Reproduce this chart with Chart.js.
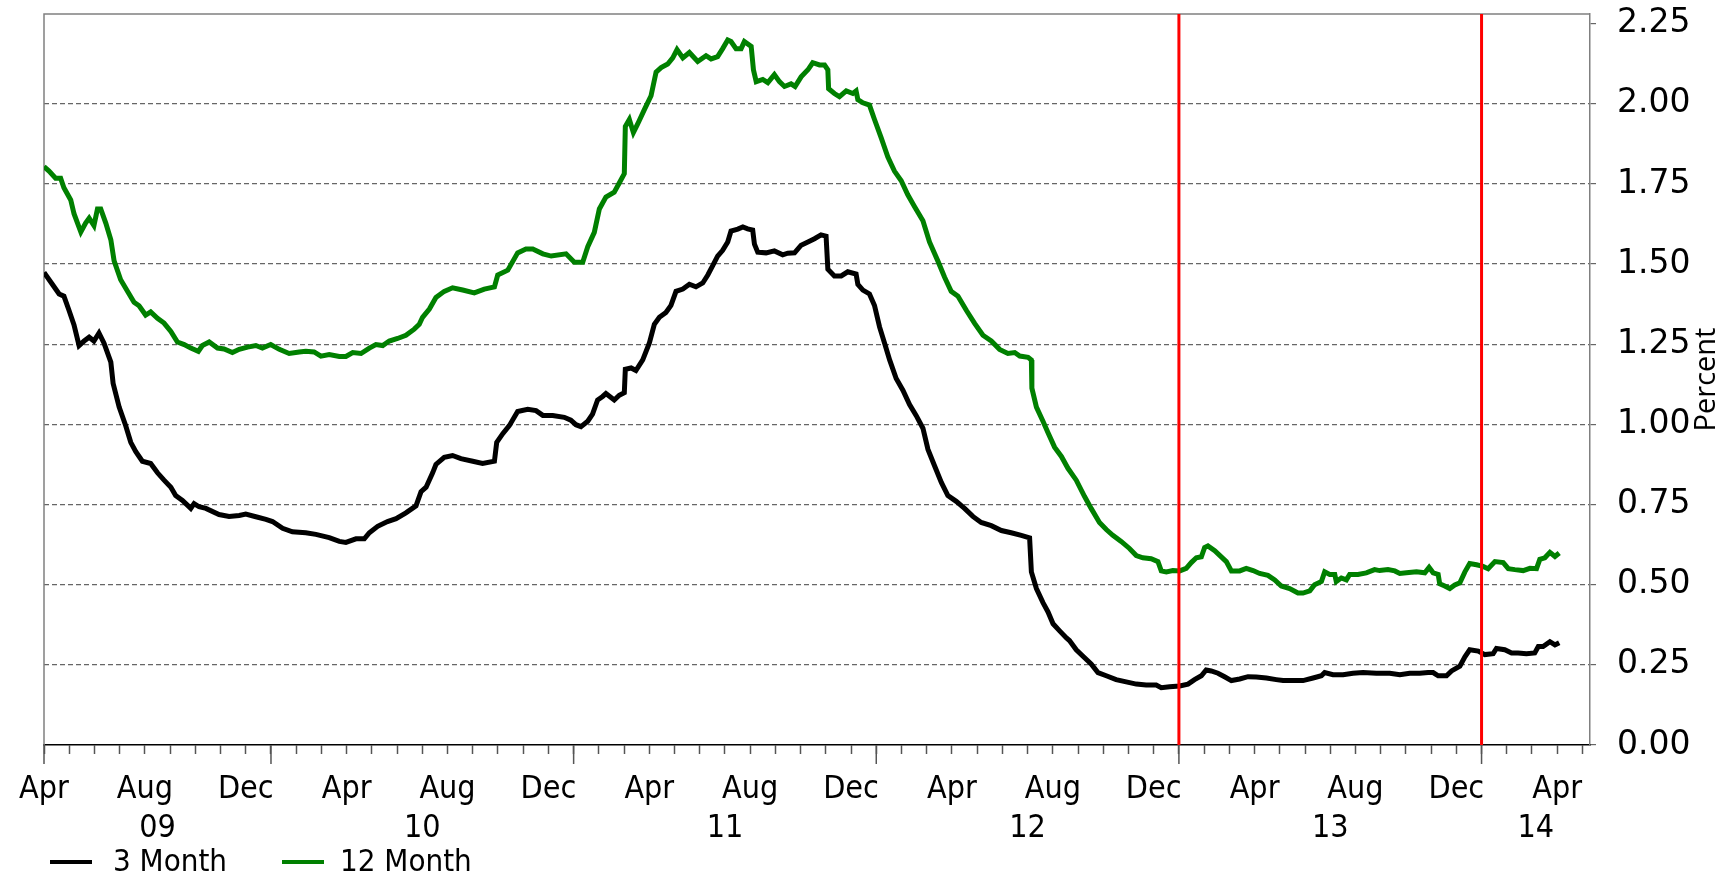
<!DOCTYPE html>
<html>
<head>
<meta charset="utf-8">
<script src="https://cdn.jsdelivr.net/npm/chart.js@4.4.1/dist/chart.umd.min.js"></script>
<style>
  html, body { margin: 0; padding: 0; background: #fff; }
</style>
</head>
<body>
<canvas id="rates" width="1735" height="875"></canvas>
<script>
// x values are months counted from 1 April 2009
const threeMonthX = [0.00,0.33,0.60,0.79,0.99,1.19,1.39,1.59,1.79,1.98,2.18,2.38,2.65,2.74,2.98,3.24,3.44,3.64,3.90,4.23,4.50,4.76,5.03,5.22,5.49,5.82,5.95,6.15,6.42,6.94,7.34,7.74,8.00,8.40,8.80,9.06,9.46,9.85,10.38,10.78,11.31,11.71,11.97,12.37,12.70,12.90,13.23,13.62,13.96,14.35,14.75,14.95,15.15,15.41,15.54,15.87,16.20,16.53,17.00,17.39,17.86,17.95,18.19,18.45,18.78,19.18,19.51,19.78,20.17,
  20.63,20.89,21.09,21.29,21.56,21.75,21.95,22.15,22.28,22.61,22.81,23.01,23.05,23.28,23.47,23.74,24.00,24.20,24.40,24.66,24.86,25.06,25.33,25.59,25.85,26.12,26.32,26.52,26.71,26.91,27.11,27.24,27.51,27.71,27.90,28.10,28.17,28.30,28.63,28.96,29.29,29.49,29.76,30.02,30.29,30.55,30.81,31.01,31.08,31.34,31.61,31.87,32.20,32.27,32.47,32.73,32.93,33.13,33.33,33.53,33.79,34.06,34.32,34.58,34.85,35.05,35.31,35.58,35.84,36.17,36.50,36.83,37.16,37.56,37.96,38.35,38.75,39.08,39.15,39.35,39.61,39.81,40.01,40.27,40.54,
  40.66,40.93,41.26,41.52,41.79,42.12,42.51,42.91,43.31,43.70,44.10,44.30,44.63,45.03,45.36,45.62,45.89,46.08,46.28,46.55,46.81,47.08,47.41,47.74,48.07,48.47,48.86,49.13,49.52,49.92,50.32,50.65,50.78,51.11,51.51,51.90,52.30,52.83,53.36,53.76,54.15,54.55,54.88,55.08,55.28,55.61,55.81,56.14,56.34,56.53,56.87,57.13,57.46,57.59,57.92,58.19,58.45,58.78,59.11,59.25,59.44,59.71,59.91,60.08];
const threeMonthY = [1.474,1.437,1.407,1.40,1.356,1.31,1.246,1.26,1.272,1.26,1.285,1.253,1.194,1.128,1.054,0.996,0.944,0.915,0.885,0.878,0.849,0.826,0.804,0.778,0.763,0.738,0.753,0.743,0.738,0.719,0.713,0.716,0.72,0.712,0.704,0.697,0.676,0.665,0.662,0.657,0.647,0.635,0.632,0.643,0.643,0.662,0.682,0.697,0.706,0.724,0.746,0.79,0.804,0.849,0.875,0.897,0.903,0.893,0.885,0.878,0.885,0.944,0.971,0.996,1.04,1.047,1.043,1.028,1.028,
  1.022,1.013,0.999,0.993,1.01,1.032,1.076,1.087,1.096,1.076,1.091,1.099,1.172,1.176,1.168,1.201,1.253,1.312,1.334,1.349,1.371,1.415,1.422,1.437,1.429,1.441,1.466,1.496,1.525,1.543,1.569,1.603,1.609,1.616,1.61,1.606,1.562,1.537,1.535,1.541,1.529,1.534,1.535,1.559,1.569,1.579,1.591,1.587,1.484,1.463,1.463,1.476,1.469,1.437,1.419,1.407,1.371,1.304,1.253,1.201,1.143,1.106,1.062,1.028,0.988,0.922,0.871,0.819,0.778,0.76,0.738,0.713,0.694,0.684,0.669,0.662,0.654,0.646,0.54,0.488,0.444,0.415,0.378,0.356,0.334,
  0.326,0.297,0.272,0.253,0.226,0.216,0.204,0.197,0.19,0.187,0.187,0.179,0.182,0.184,0.19,0.204,0.216,0.234,0.231,0.224,0.213,0.201,0.206,0.213,0.212,0.209,0.204,0.201,0.201,0.201,0.209,0.216,0.226,0.219,0.219,0.224,0.226,0.224,0.224,0.219,0.224,0.224,0.226,0.226,0.216,0.216,0.231,0.246,0.275,0.297,0.293,0.282,0.285,0.301,0.297,0.287,0.287,0.285,0.287,0.307,0.307,0.322,0.312,0.319];

const twelveMonthX = [0.00,0.20,0.46,0.66,0.79,1.06,1.19,1.46,1.65,1.79,1.98,2.12,2.25,2.45,2.65,2.78,3.04,3.31,3.57,3.77,4.03,4.23,4.50,4.76,5.03,5.29,5.56,5.82,6.12,6.28,6.55,6.88,7.14,7.47,7.74,8.07,8.40,8.66,8.99,9.33,9.72,10.12,10.38,10.71,10.98,11.31,11.71,11.97,12.24,12.57,12.90,13.16,13.43,13.69,14.02,14.35,14.68,14.88,15.01,15.28,15.54,15.87,16.20,16.60,17.06,17.46,17.86,17.99,18.39,18.78,19.11,19.38,19.78,20.11,
  20.70,21.03,21.36,21.56,21.82,22.02,22.28,22.61,22.81,23.01,23.05,23.21,23.37,23.54,23.80,24.07,24.27,24.47,24.73,24.93,25.10,25.33,25.59,25.92,26.25,26.45,26.71,26.91,27.11,27.24,27.44,27.64,27.77,28.04,28.13,28.24,28.50,28.70,28.96,29.16,29.36,29.62,29.78,30.02,30.29,30.48,30.75,30.95,31.08,31.11,31.34,31.54,31.81,32.07,32.20,32.27,32.47,32.73,32.93,33.20,33.46,33.72,33.99,34.25,34.52,34.85,35.11,35.44,35.71,35.97,36.24,36.57,36.90,37.23,37.56,37.89,38.22,38.49,38.69,39.02,39.15,39.17,39.35,39.61,39.81,40.07,40.34,40.60,
  40.93,41.26,41.52,41.85,42.12,42.38,42.71,43.04,43.31,43.57,43.90,44.17,44.30,44.50,44.76,45.03,45.29,45.49,45.69,45.89,46.02,46.15,46.42,46.68,46.88,47.08,47.41,47.67,47.94,48.20,48.53,48.80,49.06,49.39,49.72,49.92,50.19,50.38,50.65,50.78,50.98,51.18,51.24,51.44,51.64,51.77,52.10,52.43,52.76,52.96,53.29,53.56,53.76,54.02,54.42,54.75,54.92,55.08,55.28,55.34,55.54,55.74,55.94,56.14,56.34,56.53,56.80,57.06,57.26,57.53,57.86,58.06,58.32,58.65,58.92,59.18,59.31,59.51,59.71,59.91,60.08];
const twelveMonthY = [1.804,1.79,1.768,1.768,1.738,1.70,1.657,1.60,1.628,1.643,1.62,1.672,1.672,1.628,1.576,1.51,1.451,1.415,1.381,1.37,1.341,1.351,1.331,1.316,1.29,1.257,1.249,1.238,1.228,1.246,1.257,1.238,1.235,1.224,1.234,1.241,1.246,1.238,1.249,1.234,1.221,1.226,1.228,1.226,1.213,1.218,1.212,1.212,1.224,1.221,1.238,1.249,1.246,1.26,1.268,1.278,1.297,1.312,1.334,1.36,1.396,1.415,1.426,1.419,1.41,1.422,1.429,1.466,1.481,1.535,1.547,1.547,1.532,1.525,
  1.532,1.506,1.506,1.554,1.599,1.672,1.709,1.724,1.753,1.782,1.929,1.951,1.91,1.937,1.981,2.025,2.099,2.113,2.124,2.143,2.169,2.143,2.16,2.132,2.15,2.14,2.147,2.172,2.199,2.194,2.172,2.172,2.194,2.179,2.106,2.069,2.076,2.066,2.091,2.069,2.054,2.062,2.054,2.084,2.106,2.128,2.121,2.121,2.106,2.047,2.032,2.022,2.04,2.032,2.04,2.013,2.003,1.996,1.951,1.893,1.834,1.79,1.76,1.716,1.679,1.635,1.569,1.51,1.459,1.415,1.40,1.356,1.315,1.278,1.26,1.234,1.221,1.224,1.213,1.209,1.201,1.113,1.054,1.01,0.974,0.929,0.90,0.863,
  0.826,0.775,0.738,0.694,0.672,0.654,0.635,0.613,0.591,0.584,0.581,0.572,0.543,0.54,0.544,0.543,0.551,0.569,0.584,0.587,0.616,0.621,0.606,0.587,0.572,0.543,0.543,0.551,0.544,0.535,0.529,0.515,0.496,0.488,0.474,0.474,0.481,0.50,0.51,0.54,0.532,0.532,0.51,0.521,0.515,0.532,0.532,0.537,0.547,0.544,0.547,0.543,0.535,0.537,0.54,0.537,0.554,0.537,0.532,0.503,0.496,0.488,0.499,0.506,0.54,0.566,0.562,0.557,0.55,0.572,0.569,0.55,0.547,0.544,0.551,0.55,0.579,0.584,0.601,0.588,0.599];

const tickLabels = ['Apr', 'Aug', 'Dec'];      // every fourth month, from Apr 2009
const yearLabels = ['09', '10', '11', '12', '13', '14'];
const yearStarts = [0, 9, 21, 33, 45, 57];    // month index where each year begins
const markerMonths = [45, 57];                // red lines
const xMax = 61.3;
const yMax = 2.28;

const FONT = 'DejaVu Sans';
const NARROW = '"DejaVu Sans Condensed", "DejaVu Sans"';

// frame, red markers, long year ticks, year labels, legend, axis title
const extras = {
  id: 'extras',
  beforeDatasetsDraw(chart) {
    const {ctx, chartArea: a} = chart;
    ctx.save();
    ctx.strokeStyle = '#808080';
    ctx.lineWidth = 1.5;
    ctx.beginPath();
    ctx.moveTo(a.left, a.bottom);
    ctx.lineTo(a.left, a.top);
    ctx.lineTo(a.right, a.top);
    ctx.stroke();
    ctx.restore();
  },
  afterDatasetsDraw(chart) {
    const {ctx, chartArea: a, scales: {x}} = chart;
    ctx.save();
    ctx.strokeStyle = '#ff0000';
    ctx.lineWidth = 3;
    markerMonths.forEach(m => {
      const px = x.getPixelForValue(m);
      ctx.beginPath();
      ctx.moveTo(px, a.top);
      ctx.lineTo(px, a.bottom);
      ctx.stroke();
    });
    ctx.restore();
  },
  afterDraw(chart) {
    const {ctx, chartArea: a, scales: {x}} = chart;
    ctx.save();
    ctx.strokeStyle = '#555';
    ctx.lineWidth = 1.5;
    yearStarts.forEach(m => {
      const px = x.getPixelForValue(m);
      ctx.beginPath();
      ctx.moveTo(px, a.bottom);
      ctx.lineTo(px, a.bottom + 19);
      ctx.stroke();
    });

    ctx.fillStyle = '#000';
    ctx.font = '32px ' + NARROW;
    ctx.textAlign = 'center';
    ctx.textBaseline = 'middle';
    yearLabels.forEach((lab, i) => {
      const end = i + 1 < yearStarts.length ? yearStarts[i + 1] : xMax;
      const px = (x.getPixelForValue(yearStarts[i]) + x.getPixelForValue(end)) / 2;
      ctx.fillText(lab, px, 829);
    });

    // legend
    const legendX = [50, 282];
    ctx.textAlign = 'left';
    ctx.font = '31px ' + NARROW;
    chart.data.datasets.forEach((ds, i) => {
      const lx = legendX[i];
      ctx.strokeStyle = ds.borderColor;
      ctx.lineWidth = 4;
      ctx.beginPath();
      ctx.moveTo(lx, 862);
      ctx.lineTo(lx + 42, 862);
      ctx.stroke();
      ctx.fillText(ds.label, lx + (i === 0 ? 63 : 58), 863);
    });

    // rotated title
    ctx.translate(1707, (a.top + a.bottom) / 2);
    ctx.rotate(-Math.PI / 2);
    ctx.textAlign = 'center';
    ctx.font = '29px "Open Sans"';
    ctx.fillText('Percent', 0, 0);
    ctx.restore();
  }
};

new Chart(document.getElementById('rates'), {
  type: 'line',
  data: {
    datasets: [{
      label: '3 Month',
      data: threeMonthX.map((v, i) => ({x: v, y: threeMonthY[i]})),
      borderColor: '#000000',
      backgroundColor: '#000000',
      borderWidth: 5,
      pointRadius: 0,
      tension: 0
    }, {
      label: '12 Month',
      data: twelveMonthX.map((v, i) => ({x: v, y: twelveMonthY[i]})),
      borderColor: '#008000',
      backgroundColor: '#008000',
      borderWidth: 5,
      pointRadius: 0,
      tension: 0
    }]
  },
  options: {
    responsive: false,
    animation: false,
    layout: { padding: { left: 44, top: 14, right: 0, bottom: 0 } },
    plugins: {
      legend: { display: false },
      tooltip: { enabled: false }
    },
    scales: {
      x: {
        type: 'linear',
        min: 0,
        max: xMax,
        afterFit(scale) { scale.height = 130; },
        afterBuildTicks(scale) {
          scale.ticks = Array.from({length: 62}, (_, i) => ({value: i}));
        },
        grid: { drawOnChartArea: false, tickLength: 9, tickColor: '#555', tickWidth: 1.5 },
        border: { color: '#000', width: 1.5 },
        ticks: {
          autoSkip: false,
          maxRotation: 0,
          padding: 16,
          color: '#000',
          font: { family: NARROW, size: 32 },
          callback: v => (v % 4 === 0 ? tickLabels[(v / 4) % 3] : '')
        }
      },
      y: {
        position: 'right',
        min: 0,
        max: yMax,
        afterFit(scale) {
          scale.width = 145;
          scale.paddingTop = 0;
          scale.paddingBottom = 0;
        },
        grid: {
          color: c => (c.tick.value === 0 || c.tick.value === 2.25) ? 'rgba(0,0,0,0)' : '#666',
          lineWidth: 1.2,
          tickLength: 6,
          tickColor: '#666',
          tickWidth: 1.2
        },
        border: { color: '#808080', width: 1.5, dash: [5, 3] },
        ticks: {
          stepSize: 0.25,
          includeBounds: false,
          padding: 21,
          color: '#000',
          font: { family: FONT, size: 33 },
          callback: v => v.toFixed(2)
        }
      }
    }
  },
  plugins: [extras]
});
</script>
</body>
</html>
